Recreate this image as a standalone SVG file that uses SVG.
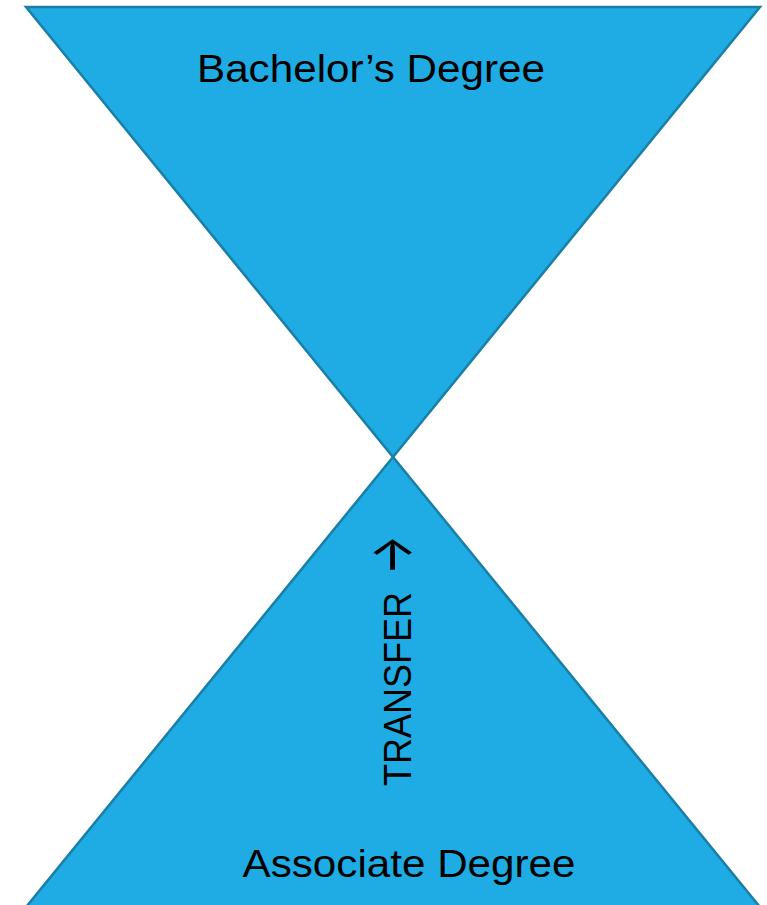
<svg xmlns="http://www.w3.org/2000/svg" width="767" height="905" viewBox="0 0 767 905">
<style>
.tri{fill:#1fabe3;stroke:#1a7fa6;stroke-width:2.5;stroke-linejoin:miter}
.lbl{font-family:"Liberation Sans","DejaVu Sans",sans-serif;font-size:38px;fill:#000}
.arr{font-family:Inter,"DejaVu Sans",sans-serif;font-size:60px;font-weight:400;fill:#000}
</style>
<rect width="767" height="905" fill="#fff"/>
<g id="bachelor">
<polygon class="tri" points="26,7 760,7 393,457"/>
<text class="lbl" x="371" y="82" text-anchor="middle" textLength="348" lengthAdjust="spacingAndGlyphs">Bachelor’s Degree</text>
</g>
<g id="associate">
<polygon class="tri" points="393,457 22,912 764,912"/>
<text class="lbl" x="409" y="877" text-anchor="middle" textLength="333" lengthAdjust="spacingAndGlyphs">Associate Degree</text>
</g>
<g id="connectors">
<text class="lbl" transform="translate(411,786) rotate(-90)"><tspan textLength="194" lengthAdjust="spacingAndGlyphs">TRANSFER</tspan><tspan class="arr" x="211" dy="1" textLength="40" lengthAdjust="spacingAndGlyphs">→</tspan></text>
</g>
</svg>
